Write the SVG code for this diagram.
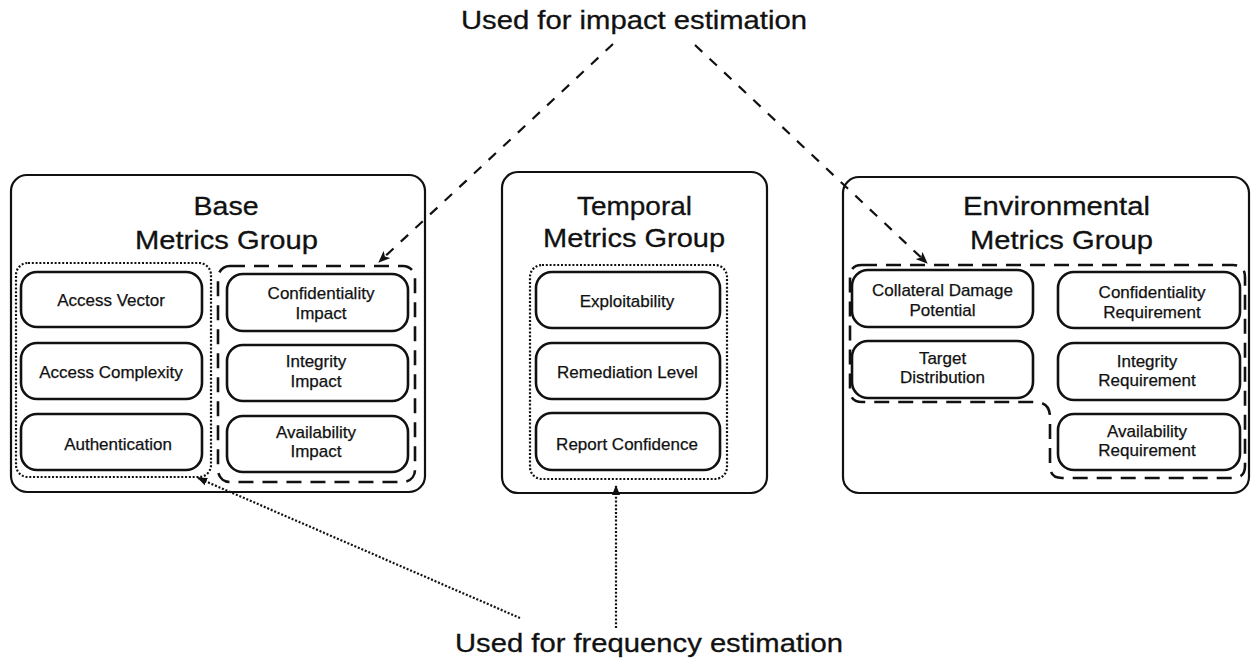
<svg xmlns="http://www.w3.org/2000/svg" width="1254" height="661" viewBox="0 0 1254 661">
<defs>
<style>
.grp{fill:#fff;stroke:#111;stroke-width:2.2}
.box{fill:#fff;stroke:#111;stroke-width:2.6}
.dot{fill:none;stroke:#111;stroke-width:2.2;stroke-dasharray:2 1.8}
.dash{fill:none;stroke:#111;stroke-width:2.6;stroke-dasharray:15 9}
.title{font-family:"Liberation Sans",Arial,sans-serif;font-size:26px;fill:#111;stroke:#111;stroke-width:0.3;text-anchor:middle}
.lbl{font-family:"Liberation Sans",Arial,sans-serif;font-size:25px;fill:#111;stroke:#111;stroke-width:0.3;text-anchor:middle}
.t{font-family:"Liberation Sans",Arial,sans-serif;font-size:17px;fill:#111;stroke:#111;stroke-width:0.25;text-anchor:middle}
.c-dash{fill:none;stroke:#111;stroke-width:2.2;stroke-dasharray:10 10}
.c-dot{fill:none;stroke:#111;stroke-width:2.2;stroke-dasharray:2 1.8}
</style>
<marker id="ah" viewBox="0 0 12 10" refX="11" refY="5" markerWidth="12" markerHeight="10" markerUnits="userSpaceOnUse" orient="auto">
<path d="M0,0 L12,5 L0,10 L3,5 Z" fill="#111"/>
</marker>
<marker id="ahs" viewBox="0 0 10 8" refX="9" refY="4" markerWidth="10" markerHeight="8" markerUnits="userSpaceOnUse" orient="auto">
<path d="M0,0 L10,4 L0,8 Z" fill="#111"/>
</marker>
</defs>
<rect width="1254" height="661" fill="#fff"/>

<g id="label-impact">
<text class="lbl" x="634" y="29" textLength="346" lengthAdjust="spacingAndGlyphs">Used for impact estimation</text>
</g>
<g id="label-frequency">
<text class="lbl" x="649" y="652" textLength="388" lengthAdjust="spacingAndGlyphs">Used for frequency estimation</text>
</g>

<g id="base-group">
<rect class="grp" x="11" y="175" width="414" height="317" rx="16"/>
<text class="title" x="226" y="215" textLength="65" lengthAdjust="spacingAndGlyphs">Base</text>
<text class="title" x="226.5" y="249" textLength="183" lengthAdjust="spacingAndGlyphs">Metrics Group</text>
<rect class="dot" x="16" y="263" width="195" height="214" rx="12"/>
<rect class="dash" x="218" y="266" width="197" height="216" rx="12"/>
</g>
<g id="access-vector"><rect class="box" x="21" y="272" width="181" height="55" rx="16"/><text class="t" x="111" y="306">Access Vector</text></g>
<g id="access-complexity"><rect class="box" x="21" y="343" width="181" height="56" rx="16"/><text class="t" x="111" y="378">Access Complexity</text></g>
<g id="authentication"><rect class="box" x="21" y="414" width="181" height="56" rx="16"/><text class="t" x="118" y="450">Authentication</text></g>
<g id="confidentiality-impact"><rect class="box" x="227" y="274" width="181" height="57" rx="16"/><text class="t" x="321" y="299">Confidentiality</text><text class="t" x="321" y="319">Impact</text></g>
<g id="integrity-impact"><rect class="box" x="227" y="345" width="181" height="56" rx="16"/><text class="t" x="316" y="367">Integrity</text><text class="t" x="316" y="387">Impact</text></g>
<g id="availability-impact"><rect class="box" x="227" y="416" width="181" height="56" rx="16"/><text class="t" x="316" y="438">Availability</text><text class="t" x="316" y="457">Impact</text></g>

<g id="temporal-group">
<rect class="grp" x="502" y="172" width="265" height="321" rx="16"/>
<text class="title" x="634.5" y="215" textLength="115" lengthAdjust="spacingAndGlyphs">Temporal</text>
<text class="title" x="634" y="247" textLength="182" lengthAdjust="spacingAndGlyphs">Metrics Group</text>
<rect class="dot" x="530" y="265" width="197" height="214" rx="12"/>
</g>
<g id="exploitability"><rect class="box" x="536" y="272" width="184" height="56" rx="16"/><text class="t" x="627" y="307">Exploitability</text></g>
<g id="remediation-level"><rect class="box" x="536" y="343" width="184" height="56" rx="16"/><text class="t" x="627.5" y="378">Remediation Level</text></g>
<g id="report-confidence"><rect class="box" x="536" y="413" width="184" height="57" rx="16"/><text class="t" x="627" y="450">Report Confidence</text></g>

<g id="environmental-group">
<rect class="grp" x="843" y="177" width="406" height="316" rx="16"/>
<text class="title" x="1056.5" y="215" textLength="187" lengthAdjust="spacingAndGlyphs">Environmental</text>
<text class="title" x="1061.5" y="249" textLength="183" lengthAdjust="spacingAndGlyphs">Metrics Group</text>
<path class="dash" d="M862 265 H1233 Q1245 265 1245 277 V466 Q1245 478 1233 478 H1062 Q1050 478 1050 466 V417 Q1050 402 1035 402 H862 Q850 402 850 390 V277 Q850 265 862 265 Z"/>
</g>
<g id="collateral-damage-potential"><rect class="box" x="852" y="270" width="181" height="57" rx="16"/><text class="t" x="942.5" y="296">Collateral Damage</text><text class="t" x="942.5" y="316">Potential</text></g>
<g id="target-distribution"><rect class="box" x="852" y="341" width="181" height="57" rx="16"/><text class="t" x="942.5" y="364">Target</text><text class="t" x="942.5" y="383">Distribution</text></g>
<g id="confidentiality-requirement"><rect class="box" x="1058" y="272" width="182" height="56" rx="16"/><text class="t" x="1152" y="298">Confidentiality</text><text class="t" x="1152" y="318">Requirement</text></g>
<g id="integrity-requirement"><rect class="box" x="1058" y="343" width="182" height="57" rx="16"/><text class="t" x="1147" y="367">Integrity</text><text class="t" x="1147" y="386">Requirement</text></g>
<g id="availability-requirement"><rect class="box" x="1058" y="414" width="182" height="56" rx="16"/><text class="t" x="1147" y="437">Availability</text><text class="t" x="1147" y="456">Requirement</text></g>

<g id="connectors">
<line class="c-dash" x1="613" y1="44" x2="379" y2="262" marker-end="url(#ah)"/>
<line class="c-dash" x1="695" y1="45" x2="927" y2="263" marker-end="url(#ah)"/>
<line class="c-dot" x1="520" y1="618" x2="198" y2="478" marker-end="url(#ahs)"/>
<line class="c-dot" x1="616" y1="628" x2="616" y2="486" marker-end="url(#ahs)"/>
</g>
</svg>
